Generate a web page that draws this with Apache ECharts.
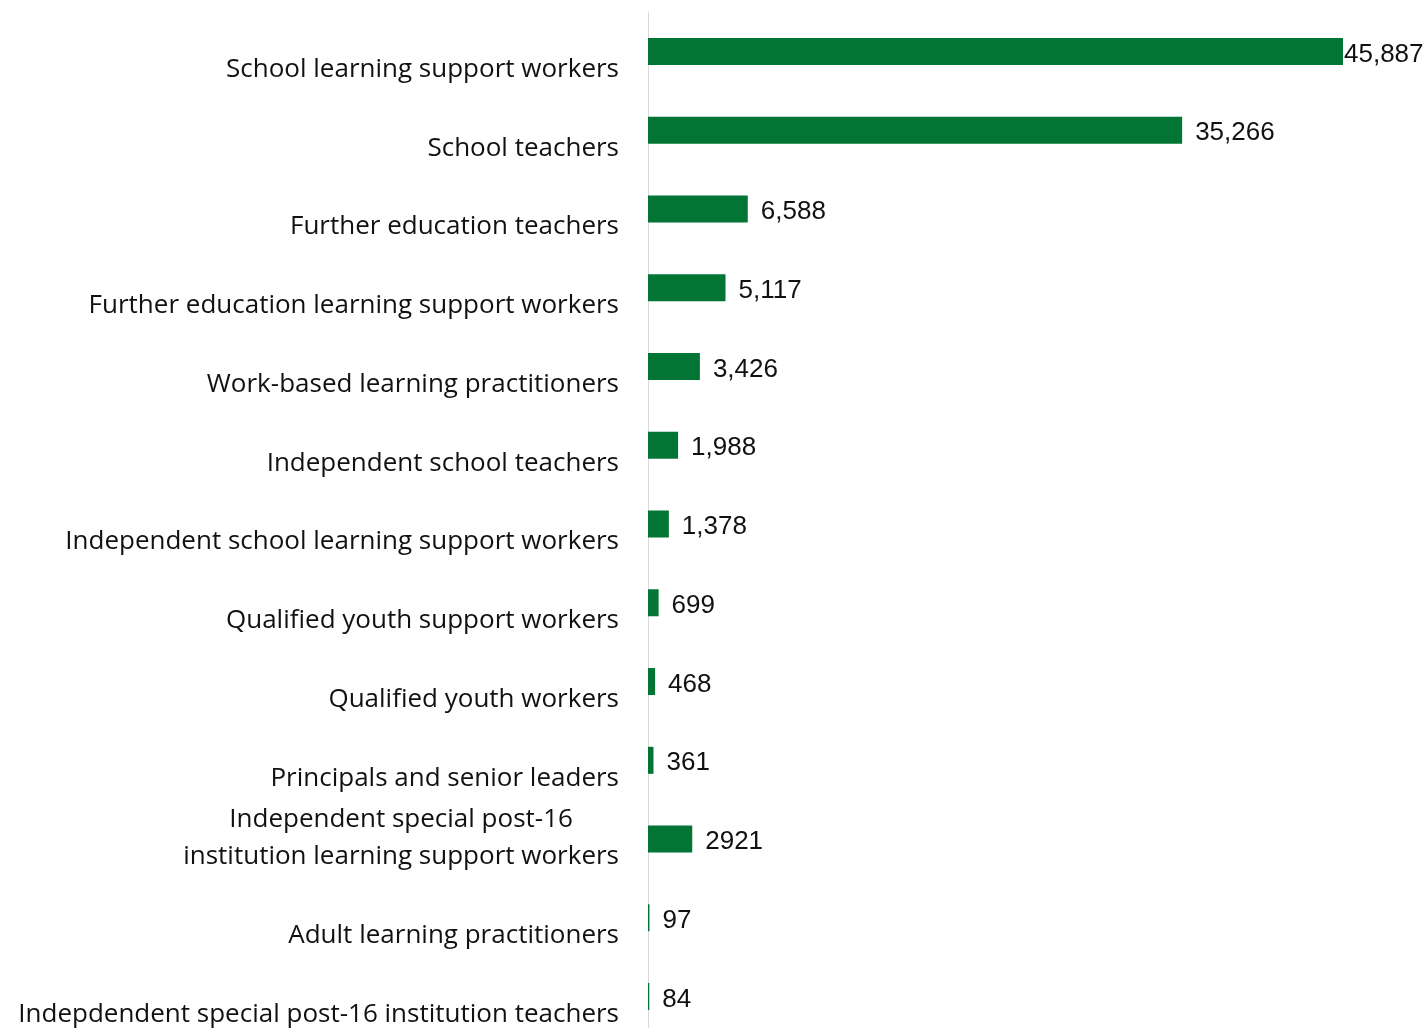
<!DOCTYPE html>
<html>
<head>
<meta charset="utf-8">
<script src="https://cdn.jsdelivr.net/npm/echarts@6/dist/echarts.min.js"></script>
<style>
html,body{margin:0;padding:0;background:#fff;}
#chart{width:1427px;height:1028px;}
</style>
</head>
<body>
<div id="chart"></div>
<script>
const categories = [
  'School learning support workers',
  'School teachers',
  'Further education teachers',
  'Further education learning support workers',
  'Work-based learning practitioners',
  'Independent school teachers',
  'Independent school learning support workers',
  'Qualified youth support workers',
  'Qualified youth workers',
  'Principals and senior leaders',
  'Independent special post-16\ninstitution learning support workers',
  'Adult learning practitioners',
  'Indepdendent special post-16 institution teachers'
];
const values = [45887, 35266, 6588, 5117, 3426, 1988, 1378, 699, 468, 361, 2921, 97, 84];
const valueLabels = ['45,887', '35,266', '6,588', '5,117', '3,426', '1,988', '1,378', '699', '468', '361', '2921', '97', '84'];

const GREEN = '#027535';
const chart = echarts.init(document.getElementById('chart'), null, {renderer: 'canvas'});

const catData = categories.map(c => c.includes('\n')
  ? {value: c, textStyle: {lineHeight: 37, padding: [0, 0, 2, 0]}}
  : {value: c});

const seriesData = values.map((v, i) => i === 0
  ? {value: v, label: {distance: 1}}
  : {value: v});

chart.setOption({
  animation: false,
  grid: {left: 648, right: 84, top: 12, height: 1024, containLabel: false, outerBoundsMode: 'none'},
  xAxis: {
    type: 'value', min: 0, max: 45887,
    show: false,
    splitLine: {show: false}
  },
  yAxis: {
    type: 'category',
    inverse: true,
    data: catData,
    axisLine: {show: true, lineStyle: {color: '#d9d9d9', width: 1}},
    axisTick: {show: false},
    axisLabel: {
      margin: 29,
      color: '#111',
      fontFamily: 'Open Sans',
      fontSize: 26,
      lineHeight: 36,
      align: 'right',
      verticalAlign: 'middle',
      interval: 0,
      formatter: v => v.includes('\n')
        ? v.split('\n').map(s => '{c|' + s + '}').join('\n')
        : '\n' + v,
      rich: {
        c: {align: 'center', fontFamily: 'Open Sans', fontSize: 26, lineHeight: 37, color: '#111'}
      }
    }
  },
  series: [{
    type: 'bar',
    data: seriesData,
    barWidth: 27,
    itemStyle: {color: GREEN},
    label: {
      show: true,
      position: 'right',
      distance: 13,
      offset: [0, 3],
      color: '#111',
      fontFamily: 'Liberation Sans',
      fontSize: 26,
      formatter: p => valueLabels[p.dataIndex]
    }
  }]
});
</script>
</body>
</html>
